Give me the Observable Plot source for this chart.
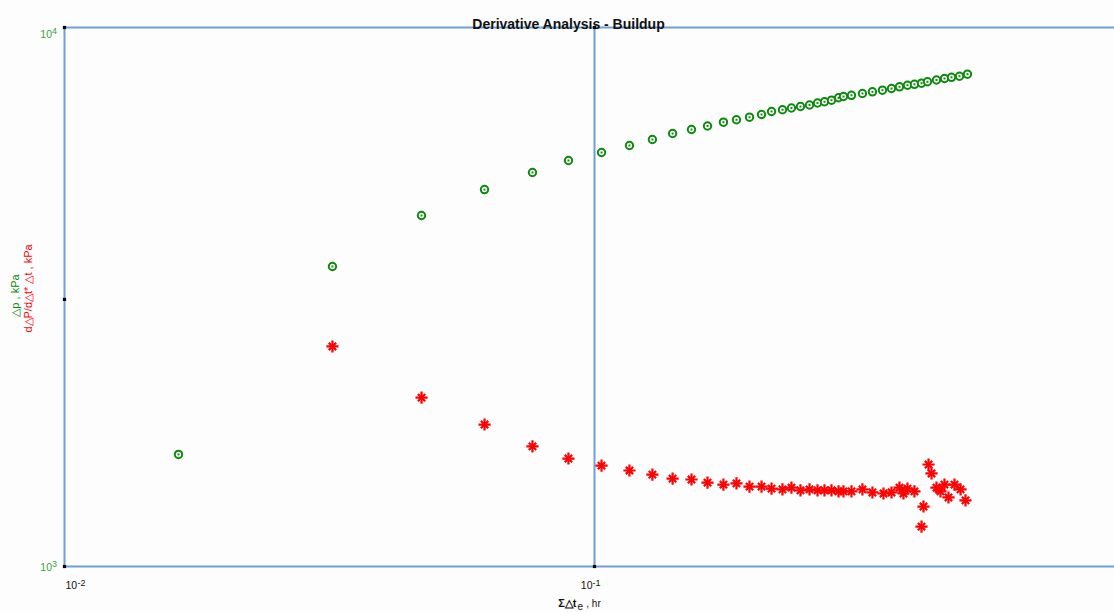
<!DOCTYPE html>
<html>
<head>
<meta charset="utf-8">
<script src="https://cdn.jsdelivr.net/npm/d3@7"></script>
<script src="https://cdn.jsdelivr.net/npm/@observablehq/plot@0.6"></script>
<style>
  html, body { margin: 0; padding: 0; background: #fdfdfd; }
</style>
</head>
<body>
<div id="chart"></div>
<script>
// Δp vs elapsed time (green circles)
const timeHr = [0.01641, 0.03203, 0.04716, 0.06201, 0.07638, 0.08931, 0.1031, 0.1164, 0.1286, 0.1404,
  0.1524, 0.1634, 0.1751, 0.1853, 0.1961, 0.2066, 0.2158, 0.2263, 0.2353, 0.2447,
  0.2545, 0.2635, 0.2716, 0.2800, 0.2887, 0.2950, 0.3054, 0.3203, 0.3345, 0.3494,
  0.3634, 0.3762, 0.3895, 0.4015, 0.4140, 0.4249, 0.4418, 0.4575, 0.4716, 0.4883, 0.5055];
const deltaP = [1614, 3603, 4479, 5004, 5383, 5665, 5863, 6041, 6197, 6357,
  6468, 6566, 6673, 6742, 6817, 6896, 6986, 7036, 7089, 7135,
  7182, 7243, 7282, 7331, 7407, 7447, 7485, 7544, 7598, 7651,
  7705, 7762, 7814, 7845, 7883, 7930, 7991, 8043, 8083, 8121, 8192];

// derivative (red stars)
const derivTime = [0.03203, 0.04717, 0.06203, 0.07638, 0.08930, 0.1031, 0.1164, 0.1286, 0.1404, 0.1524,
  0.1634, 0.1751, 0.1853, 0.1961, 0.2066, 0.2158, 0.2263, 0.2353, 0.2447, 0.2545,
  0.2635, 0.2716, 0.2800, 0.2887, 0.2950, 0.3054, 0.3203, 0.3345, 0.3510, 0.3634,
  0.3762, 0.3828, 0.3895, 0.4015, 0.4140, 0.4176, 0.4268, 0.4324, 0.4418, 0.4496,
  0.4575, 0.4655, 0.4778, 0.4905, 0.5012];
const derivP = [2560, 2058, 1834, 1670, 1586, 1539, 1507, 1481, 1456, 1450,
  1431, 1419, 1426, 1407, 1407, 1395, 1390, 1401, 1384, 1390,
  1384, 1384, 1384, 1378, 1378, 1378, 1390, 1372, 1366, 1372,
  1401, 1366, 1395, 1378, 1186, 1292, 1546, 1488, 1401, 1378,
  1419, 1343, 1419, 1390, 1326];

const xTicks = [0.01, 0.1];
const xTickExp = ["-2", "-1"];
const yTicks = [1000, 10000];
const yTickExp = ["3", "4"];
const tickMarkX = [0.01, 0.01, 0.01, 0.1, 0.1];
const tickMarkY = [10000, 3130, 1000, 10000, 1000];

const pData = timeHr.map((t, i) => ({t, v: deltaP[i]}));
const dData = derivTime.map((t, i) => ({t, v: derivP[i]}));
const marks = tickMarkX.map((x, i) => ({x, y: tickMarkY[i]}));

const gridColor = "#6f9fd6";
const green = "#0b8a0b";
const labelGreen = "#3aa33a";
const red = "#ff0000";
const ink = "#111";

const chart = Plot.plot({
  width: 1114,
  height: 612,
  marginLeft: 64,
  marginRight: 0,
  marginTop: 27,
  marginBottom: 46,
  x: {type: "log", domain: [0.01, 1], range: [64, 1124], axis: null},
  y: {type: "log", domain: [1000, 10000], axis: null},
  style: {background: "#fdfdfd", fontFamily: "'Liberation Sans', Arial, sans-serif", overflow: "hidden"},
  marks: [
    Plot.ruleY(yTicks, {y: d => d, stroke: gridColor, strokeWidth: 2}),
    Plot.ruleX(xTicks, {x: d => d, stroke: gridColor, strokeWidth: 2}),
    Plot.dot(marks, {x: "x", y: "y", symbol: "square", r: 1.8, fill: "black"}),
    // x tick labels: base + superscript exponent
    Plot.text([xTicks[0]], {x: d => d, y: yTicks[0], text: () => "10", textAnchor: "start", lineAnchor: "bottom", dx: 1, dy: 22.5, fontSize: 10.5, fill: ink}),
    Plot.text([xTicks[0]], {x: d => d, y: yTicks[0], text: () => xTickExp[0], textAnchor: "start", lineAnchor: "bottom", dx: 13, dy: 19, fontSize: 9, fill: ink}),
    Plot.text([xTicks[1]], {x: d => d, y: yTicks[0], text: () => "10", textAnchor: "end", lineAnchor: "bottom", dx: -2, dy: 22.5, fontSize: 10.5, fill: ink}),
    Plot.text([xTicks[1]], {x: d => d, y: yTicks[0], text: () => xTickExp[1], textAnchor: "start", lineAnchor: "bottom", dx: -2, dy: 19, fontSize: 9, fill: ink}),
    // y tick labels
    Plot.text([yTicks[0]], {x: xTicks[0], y: d => d, text: () => "10", textAnchor: "end", lineAnchor: "bottom", dx: -12.5, dy: 4, fontSize: 10.5, fill: labelGreen}),
    Plot.text([yTicks[0]], {x: xTicks[0], y: d => d, text: () => yTickExp[0], textAnchor: "start", lineAnchor: "bottom", dx: -12.5, dy: 0.5, fontSize: 9, fill: labelGreen}),
    Plot.text([yTicks[1]], {x: xTicks[0], y: d => d, text: () => "10", textAnchor: "end", lineAnchor: "bottom", dx: -12.5, dy: 10.5, fontSize: 10.5, fill: labelGreen}),
    Plot.text([yTicks[1]], {x: xTicks[0], y: d => d, text: () => yTickExp[1], textAnchor: "start", lineAnchor: "bottom", dx: -12.5, dy: 6.5, fontSize: 9, fill: labelGreen}),
    // data: derivative stars
    Plot.dot(dData, {x: "t", y: "v", symbol: "plus", r: 4.0, stroke: red, strokeWidth: 2.2}),
    Plot.dot(dData, {x: "t", y: "v", symbol: "times", r: 3.4, stroke: red, strokeWidth: 2.2}),
    // data: pressure circles
    Plot.dot(pData, {x: "t", y: "v", r: 3.7, stroke: green, strokeWidth: 2, fill: "white"}),
    Plot.dot(pData, {x: "t", y: "v", symbol: "square", r: 1.1, fill: green}),
    // title
    Plot.text(["Derivative Analysis - Buildup"], {frameAnchor: "top", text: d => d, textAnchor: "middle", dx: -21, dy: -8, fontSize: 14, fontWeight: "bold", fill: ink}),
    // x label: Σ△t with subscript e
    Plot.text(["Σ△t"], {frameAnchor: "bottom", text: d => d, textAnchor: "end", lineAnchor: "bottom", dx: -13, dy: 40.5, fontSize: 11, fontWeight: "bold", fill: ink}),
    Plot.text(["e"], {frameAnchor: "bottom", text: d => d, textAnchor: "start", lineAnchor: "bottom", dx: -12, dy: 43.5, fontSize: 10, fill: ink}),
    Plot.text([" , hr"], {frameAnchor: "bottom", text: d => d, textAnchor: "start", lineAnchor: "bottom", dx: -6, dy: 40, fontSize: 10, fill: ink}),
    // y labels
    Plot.text(["△p , kPa"], {frameAnchor: "left", text: d => d, rotate: -90, textAnchor: "middle", dx: -49, dy: -1.5, fontSize: 11, fill: green}),
    Plot.text(["d△P/d△t* △t , kPa"], {frameAnchor: "left", text: d => d, rotate: -90, textAnchor: "middle", dx: -36, dy: -8.5, fontSize: 11, fill: red})
  ]
});
document.getElementById("chart").appendChild(chart);
</script>
</body>
</html>
